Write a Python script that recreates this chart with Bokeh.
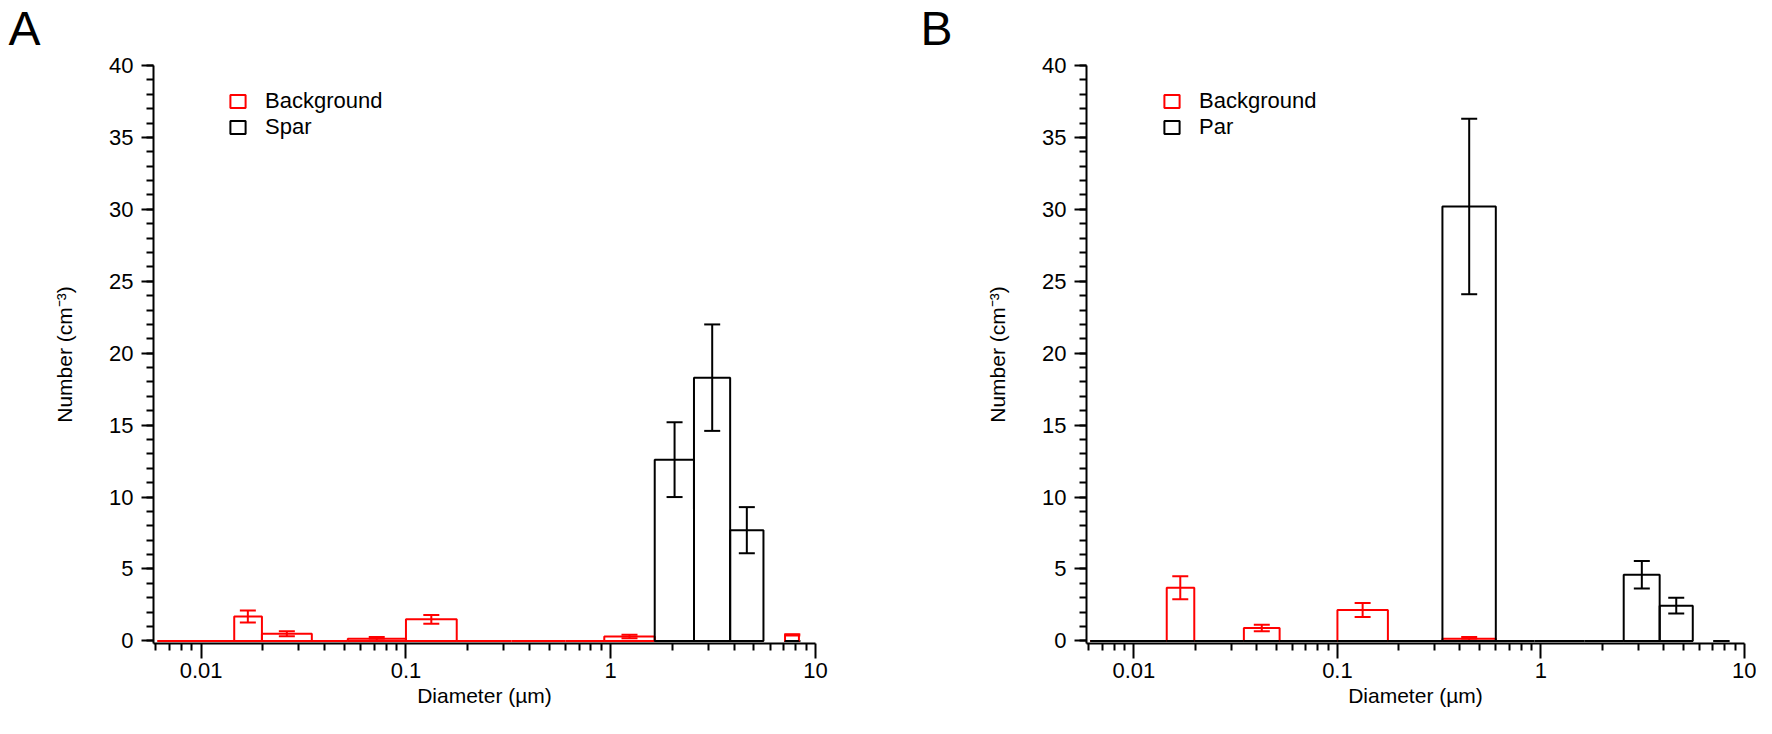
import math
from bokeh.plotting import figure
from bokeh.models import (Range1d, FixedTicker, CustomJSTickFormatter, Whisker, TeeHead,
                          ColumnDataSource, Legend, LegendItem, Label)
from bokeh.layouts import row
from bokeh.embed import file_html
from bokeh.resources import INLINE

nan = float("nan")

# size bins (µm), shared by both panels
bin_lo = [0.0061, 0.0145, 0.0198, 0.0347, 0.0520, 0.100, 0.177, 0.328, 0.60, 0.93, 1.64, 2.55, 3.83, 7.1]
bin_hi = [0.0145, 0.0198, 0.0347, 0.0520, 0.100, 0.177, 0.328, 0.60, 0.93, 1.64, 2.55, 3.83, 5.57, 8.3]
diam = [0.0100, 0.0169, 0.0262, 0.0425, 0.072, 0.133, 0.241, 0.444, 0.747, 1.235, 2.05, 3.13, 4.62, 7.7]

# Panel A
a_bg = [0, 1.7, 0.5, 0, 0.15, 1.5, 0, 0, 0, 0.3, 0, 0, 0, 0.42]
a_bg_err = [0, 0.42, 0.18, 0, 0.12, 0.3, 0, 0, 0, 0.12, 0, 0, 0, 0.05]
a_spar = [nan, nan, nan, nan, nan, nan, nan, nan, nan, nan, 12.6, 18.3, 7.7, 0]
a_spar_err = [nan, nan, nan, nan, nan, nan, nan, nan, nan, nan, 2.6, 3.7, 1.6, 0]

# Panel B
b_bg = [0, 3.7, nan, 0.9, nan, 2.15, nan, 0.15, nan, nan, nan, 0, 0, nan]
b_bg_err = [0, 0.8, nan, 0.22, nan, 0.48, nan, 0.12, nan, nan, nan, 0, 0, nan]
b_par = [0, 0, 0, 0, 0, 0, 0, 30.2, 0, 0, 0, 4.6, 2.45, 0]
b_par_err = [nan, nan, nan, nan, nan, nan, nan, 6.1, nan, nan, nan, 0.95, 0.55, 0]

x_major = [0.01, 0.1, 1, 10]
x_minor = [0.006, 0.007, 0.008, 0.009,
           0.02, 0.03, 0.04, 0.05, 0.06, 0.07, 0.08, 0.09,
           0.2, 0.3, 0.4, 0.5, 0.6, 0.7, 0.8, 0.9,
           2, 3, 4, 5, 6, 7, 8, 9]
y_major = [0, 5, 10, 15, 20, 25, 30, 35, 40]
y_minor = list(range(0, 41))

RED = "#ff0000"
BLACK = "#000000"
FONT = "Liberation Sans"

H = 718
TOP, BOTTOM = 65, 75


def bars_source(vals):
    keep = [i for i, v in enumerate(vals) if not math.isnan(v)]
    return ColumnDataSource(dict(
        left=[bin_lo[i] for i in keep],
        right=[bin_hi[i] for i in keep],
        top=[vals[i] for i in keep],
    ))


def err_source(vals, errs):
    keep = [i for i, (v, e) in enumerate(zip(vals, errs)) if not (math.isnan(v) or math.isnan(e))]
    return ColumnDataSource(dict(
        x=[diam[i] for i in keep],
        up=[vals[i] + errs[i] for i in keep],
        lo=[vals[i] - errs[i] for i in keep],
    ))


def add_whisker(p, src, color):
    w = Whisker(source=src, base="x", upper="up", lower="lo", dimension="height",
                line_color=color, line_width=2,
                upper_head=TeeHead(size=16, line_color=color, line_width=2),
                lower_head=TeeHead(size=16, line_color=color, line_width=2))
    p.add_layout(w)


def letter_panel(letter, width, fx):
    # a blank strip whose frame is the whole canvas; the letter sits near its top
    p = figure(width=width, height=H, x_range=Range1d(0, 1), y_range=Range1d(0, 1),
               output_backend="svg", toolbar_location=None,
               min_border=0, min_border_left=0, min_border_right=0,
               min_border_top=0, min_border_bottom=0)
    p.frame_align = False
    p.axis.visible = False
    p.xgrid.visible = False
    p.ygrid.visible = False
    p.outline_line_color = None
    p.background_fill_color = "white"
    p.border_fill_color = "white"
    p.add_layout(Label(x=fx, y=1 - 28 / H, text=letter,
                       text_font=FONT, text_font_size="48px", text_color=BLACK,
                       text_align="left", text_baseline="alphabetic"))
    return p


def make_panel(width, bg, bg_err, smp, smp_err, smp_name, bl, br, legend_x):
    p = figure(width=width, height=H, x_axis_type="log",
               x_range=Range1d(0.00585, 10), y_range=Range1d(-0.18, 40),
               output_backend="svg", toolbar_location=None,
               min_border_left=bl, min_border_right=br,
               min_border_top=TOP, min_border_bottom=BOTTOM)
    p.outline_line_color = None
    p.xgrid.visible = False
    p.ygrid.visible = False
    p.background_fill_color = "white"
    p.border_fill_color = "white"

    r_bg = p.quad(left="left", right="right", bottom=0, top="top", source=bars_source(bg),
                  fill_color=None, line_color=RED, line_width=2)
    r_smp = p.quad(left="left", right="right", bottom=0, top="top", source=bars_source(smp),
                   fill_color=None, line_color=BLACK, line_width=2)
    add_whisker(p, err_source(smp, smp_err), BLACK)
    add_whisker(p, err_source(bg, bg_err), RED)

    xa = p.xaxis[0]
    xa.ticker = FixedTicker(ticks=x_major, minor_ticks=x_minor)
    xa.formatter = CustomJSTickFormatter(code="return tick >= 1 ? tick.toFixed(0) : tick.toString();")
    xa.axis_label = "Diameter (µm)"
    xa.major_tick_out = 15
    xa.minor_tick_out = 7
    xa.major_label_standoff = 4

    ya = p.yaxis[0]
    ya.ticker = FixedTicker(ticks=y_major, minor_ticks=y_minor)
    ya.axis_label = "Number (cm⁻³)"
    ya.major_tick_out = 12
    ya.minor_tick_out = 7
    ya.major_label_standoff = 8

    for ax in (xa, ya):
        ax.axis_line_width = 2
        ax.axis_line_color = BLACK
        ax.major_tick_line_width = 2
        ax.minor_tick_line_width = 2
        ax.major_tick_line_color = BLACK
        ax.minor_tick_line_color = BLACK
        ax.major_tick_in = 0
        ax.minor_tick_in = 0
        ax.major_label_text_font = FONT
        ax.major_label_text_font_size = "22px"
        ax.major_label_text_color = BLACK
        ax.axis_label_text_font = FONT
        ax.axis_label_text_font_size = "21px"
        ax.axis_label_text_font_style = "normal"
        ax.axis_label_text_color = BLACK
    xa.axis_label_standoff = 3
    ya.axis_label_standoff = 30

    legend = Legend(items=[LegendItem(label="Background", renderers=[r_bg]),
                           LegendItem(label=smp_name, renderers=[r_smp])],
                    location=(legend_x, 503))
    legend.padding = 0
    legend.margin = 0
    legend.spacing = 0
    legend.glyph_width = 19
    legend.glyph_height = 16
    legend.label_height = 20
    legend.label_standoff = 18
    legend.label_text_font = FONT
    legend.label_text_font_size = "22px"
    legend.label_text_color = BLACK
    legend.border_line_alpha = 0
    legend.background_fill_alpha = 0
    p.add_layout(legend, "center")
    return p


la = letter_panel("A", 50, 0.16)
pa = make_panel(858, a_bg, a_bg_err, a_spar, a_spar_err, "Spar", 102, 93, 75)
lb = letter_panel("B", 50, 0.24)
pb = make_panel(798, b_bg, b_bg_err, b_par, b_par_err, "Par", 128, 12, 76)

layout = row(la, pa, lb, pb)
open("out.html", "w").write(file_html(layout, INLINE))
